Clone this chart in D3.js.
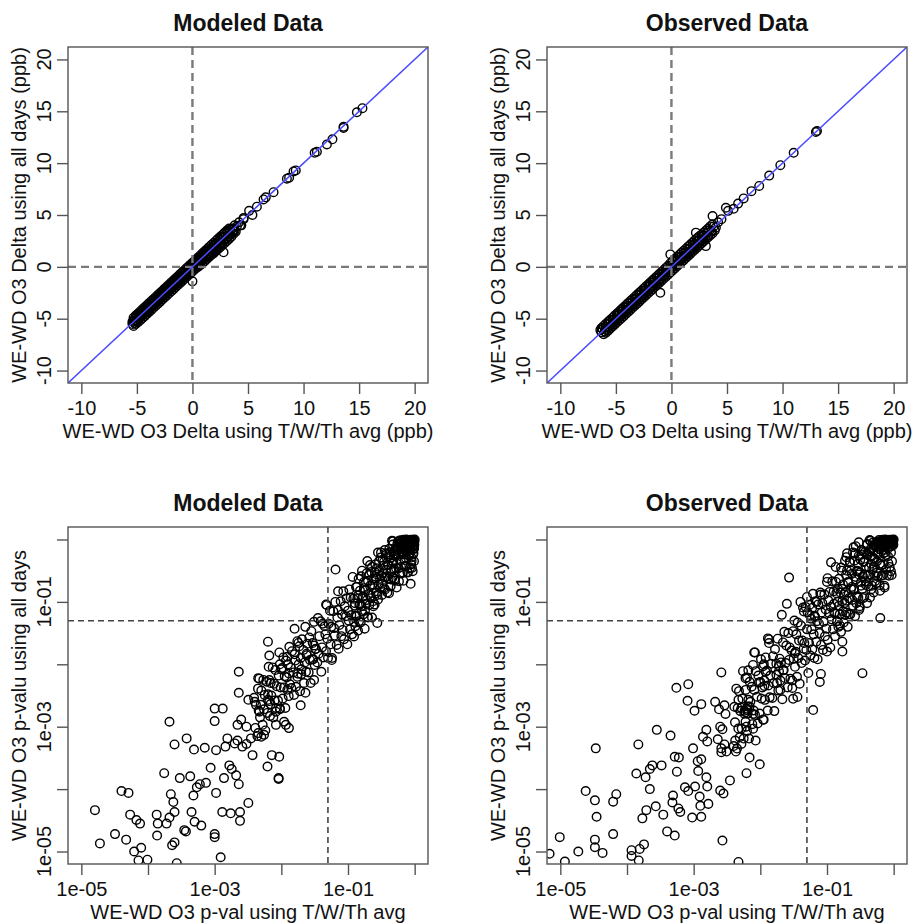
<!DOCTYPE html>
<html>
<head>
<meta charset="utf-8">
<script src="https://cdn.jsdelivr.net/npm/d3@7"></script>
<style>
  body { margin: 0; background: #fff; }
  text { font-family: "Liberation Sans", Arial, sans-serif; fill: #111; }
</style>
</head>
<body>
<svg width="917" height="924"></svg>
<script>
// titles, axis labels and ticks
var panelTitles = ["Modeled Data", "Observed Data"];
var deltaXLabel = "WE-WD O3 Delta using T/W/Th avg (ppb)";
var deltaYLabel = "WE-WD O3 Delta using all days (ppb)";
var pvalXLabel = "WE-WD O3 p-val using T/W/Th avg";
var pvalYLabel = "WE-WD O3 p-valu using all days";
var deltaTicks = [-10, -5, 0, 5, 10, 15, 20];
var pTicks = [1e-5, 1e-4, 1e-3, 1e-2, 1e-1, 1];
var pTickLabels = ["1e-05", "", "1e-03", "", "1e-01", ""];
var pCutoff = 0.05;

// delta: [T/W/Th avg, all days] (ppb), modeled
var modeledDelta = [
  [-5.4,-5.3],[-5.4,-5.5],[-5.3,-5.2],[-5.2,-5.4],[-5.2,-5.0],[-5.1,-5.2],[-5.0,-4.8],[-5.0,-5.2],[-4.9,-5.0],
  [-4.8,-4.6],[-4.8,-5.0],[-4.7,-4.8],[-4.6,-4.4],[-4.6,-4.8],[-4.5,-4.6],[-4.4,-4.2],[-4.4,-4.6],[-4.3,-4.4],
  [-4.2,-4.0],[-4.2,-4.4],[-4.1,-4.2],[-4.0,-3.8],[-4.0,-4.3],[-3.9,-4.0],[-3.8,-3.6],[-3.8,-4.0],[-3.7,-3.8],
  [-3.6,-3.4],[-3.6,-3.8],[-3.5,-3.6],[-3.4,-3.2],[-3.4,-3.6],[-3.3,-3.4],[-3.2,-3.0],[-3.2,-3.4],[-3.1,-3.2],
  [-3.0,-2.8],[-3.0,-3.2],[-2.9,-3.0],[-2.8,-2.6],[-2.8,-3.0],[-2.7,-2.8],[-2.6,-2.4],[-2.6,-2.8],[-2.5,-2.6],
  [-2.4,-2.2],[-2.4,-2.6],[-2.3,-2.4],[-2.2,-2.0],[-2.2,-2.4],[-2.1,-2.2],[-2.0,-1.8],[-2.0,-2.2],[-1.9,-2.0],
  [-1.8,-1.6],[-1.8,-2.0],[-1.7,-1.8],[-1.6,-1.4],[-1.6,-1.8],[-1.5,-1.6],[-1.4,-1.2],[-1.4,-1.6],[-1.3,-1.4],
  [-1.2,-1.0],[-1.2,-1.4],[-1.1,-1.2],[-1.0,-0.8],[-1.0,-1.2],[-0.9,-1.0],[-0.8,-0.6],[-0.8,-1.0],[-0.7,-0.8],
  [-0.6,-0.4],[-0.6,-0.8],[-0.5,-0.6],[-0.4,-0.2],[-0.4,-0.6],[-0.3,-0.4],[-0.2,0.0],[-0.2,-0.4],[-0.1,-0.2],
  [0.0,0.2],[0.0,-0.2],[0.1,0.0],[0.2,0.4],[0.2,0.0],[0.3,0.2],[0.4,0.6],[0.4,0.2],[0.5,0.4],
  [0.6,0.8],[0.6,0.3],[0.7,0.6],[0.8,1.0],[0.8,0.5],[0.9,0.8],[1.0,1.2],[1.0,0.7],[1.1,1.0],
  [1.2,1.4],[1.2,0.9],[1.3,1.2],[1.4,1.6],[1.4,1.0],[1.5,1.3],[1.6,1.7],[1.6,1.2],[1.7,1.5],
  [1.8,1.9],[1.8,1.4],[1.9,1.7],[2.0,2.1],[2.0,1.6],[2.1,1.9],[2.2,2.3],[2.2,1.8],[2.4,2.5],
  [2.4,2.0],[2.5,2.3],[2.6,2.8],[2.6,2.2],[2.8,2.9],[2.8,2.5],[3.0,3.2],[3.0,2.7],[3.2,3.3],
  [3.2,2.9],[3.4,3.6],[3.4,3.1],[3.6,3.7],[3.6,3.3],[3.8,4.0],[3.8,3.5],[4.0,3.9],[4.2,4.3],
  [-5.3,-4.9],[-5.1,-4.7],[-4.9,-4.5],[-4.7,-4.3],[-4.5,-4.1],[-4.3,-3.9],[-4.1,-3.7],[-3.9,-3.5],[-3.7,-3.3],
  [-3.5,-3.1],[-3.3,-2.9],[-3.1,-2.7],[-2.9,-2.5],[-2.7,-2.3],[-2.5,-2.1],[-2.3,-1.9],[-2.1,-1.7],[-1.9,-1.5],
  [-1.7,-1.3],[-1.5,-1.1],[-1.3,-0.9],[-1.1,-0.7],[-0.9,-0.5],[-0.7,-0.3],[-0.5,-0.1],[-0.3,0.1],[-0.1,0.3],
  [0.1,0.5],[0.3,0.7],[0.5,0.9],[0.7,1.1],[0.9,1.3],[1.1,1.5],[1.3,1.7],[1.5,1.9],[1.7,2.1],
  [1.9,2.3],[2.1,2.5],[2.3,2.7],[2.5,2.9],[2.7,3.1],[2.9,3.3],[3.1,3.4],[3.3,3.7],
  [-5.3,-5.7],[-5.1,-5.5],[-4.9,-5.35],[-4.7,-5.15],[-4.5,-4.95],[-4.3,-4.75],[-4.1,-4.55],[-3.9,-4.35],[-3.7,-4.15],
  [-3.5,-3.95],[-3.3,-3.75],[-3.1,-3.55],[-2.9,-3.35],[-2.7,-3.15],[-2.5,-2.95],[-2.3,-2.75],[-2.1,-2.55],[-1.9,-2.35],
  [-1.7,-2.15],[-1.5,-1.95],[-1.3,-1.75],[-1.1,-1.55],[-0.9,-1.35],[-0.7,-1.15],[-0.5,-0.95],[-0.3,-0.75],[-0.1,-0.55],
  [0.1,-0.35],[0.3,-0.15],[0.5,0.0],[0.7,0.15],[0.9,0.35],[1.1,0.55],[1.3,0.75],[1.5,0.95],[1.7,1.15],
  [1.9,1.3],[2.1,1.5],[2.3,1.7],[2.5,1.9],[2.7,2.1],[2.9,2.3],[3.1,2.5],[3.3,2.7],[3.5,2.9],[3.7,3.2],[3.9,3.4],
  [4.4,4.0],[4.6,4.6],[3.1,3.5],[3.7,3.6],[4.3,4.0],[4.6,4.7],[5.1,5.4],[5.4,5.0],[5.8,5.8],
  [6.4,6.5],[6.6,6.7],[7.3,7.2],[8.5,8.5],[8.7,8.6],[9.1,9.2],[9.3,9.3],[11.0,11.0],[11.2,11.1],
  [12.1,11.8],[12.6,12.3],[13.6,13.4],[13.6,13.5],[14.8,14.9],[15.3,15.3],[0.0,-1.4],[2.8,1.4]
];

// delta: [T/W/Th avg, all days] (ppb), observed
var observedDelta = [
  [-6.4,-6.1],[-6.3,-6.3],[-6.2,-6.0],[-6.0,-6.2],[-5.9,-5.8],[-5.8,-6.0],[-5.7,-5.5],[-5.6,-5.8],[-5.5,-5.4],
  [-5.4,-5.6],[-5.3,-5.1],[-5.2,-5.4],[-5.1,-5.0],[-5.0,-5.2],[-4.9,-4.7],[-4.8,-5.0],[-4.7,-4.6],[-4.6,-4.8],
  [-4.5,-4.3],[-4.4,-4.6],[-4.3,-4.2],[-4.2,-4.4],[-4.1,-3.9],[-4.0,-4.2],[-3.9,-3.8],[-3.8,-4.0],[-3.7,-3.5],
  [-3.6,-3.8],[-3.5,-3.4],[-3.4,-3.6],[-3.3,-3.1],[-3.2,-3.4],[-3.1,-3.0],[-3.0,-3.2],[-2.9,-2.7],[-2.8,-3.0],
  [-2.7,-2.6],[-2.6,-2.8],[-2.5,-2.3],[-2.4,-2.6],[-2.3,-2.2],[-2.2,-2.4],[-2.1,-1.9],[-2.0,-2.2],[-1.9,-1.8],
  [-1.8,-2.0],[-1.7,-1.5],[-1.6,-1.8],[-1.5,-1.4],[-1.4,-1.6],[-1.3,-1.1],[-1.2,-1.4],[-1.1,-1.0],[-1.0,-1.2],
  [-0.9,-0.7],[-0.8,-0.9],[-0.7,-0.6],[-0.6,-0.8],[-0.5,-0.3],[-0.4,-0.5],[-0.3,-0.2],[-0.2,-0.4],[-0.1,0.1],
  [0.0,-0.1],[0.1,0.2],[0.2,0.0],[0.3,0.5],[0.4,0.2],[0.5,0.6],[0.6,0.4],[0.7,0.9],[0.8,0.6],
  [0.9,1.0],[1.0,0.8],[1.1,1.3],[1.2,1.0],[1.3,1.4],[1.4,1.2],[1.5,1.7],[1.6,1.4],[1.7,1.8],
  [1.8,1.6],[1.9,2.1],[2.0,1.8],[2.1,2.2],[2.2,2.0],[2.3,2.5],[2.4,2.2],[2.5,2.6],[2.6,2.4],
  [2.7,2.9],[2.8,2.6],[2.9,3.0],[3.0,2.8],[3.2,3.3],[3.3,3.0],[3.4,3.5],[3.6,3.4],[3.8,3.9],
  [4.0,3.8],[4.2,4.3],
  [-6.3,-5.9],[-6.1,-5.7],[-5.9,-5.5],[-5.7,-5.3],[-5.5,-5.1],[-5.3,-4.9],[-5.1,-4.7],[-4.9,-4.5],[-4.7,-4.3],
  [-4.5,-4.1],[-4.3,-3.9],[-4.1,-3.7],[-3.9,-3.5],[-3.7,-3.3],[-3.5,-3.1],[-3.3,-2.9],[-3.1,-2.7],[-2.9,-2.5],
  [-2.7,-2.3],[-2.5,-2.1],[-2.3,-1.9],[-2.1,-1.7],[-1.9,-1.5],[-1.7,-1.3],[-1.5,-1.1],[-1.3,-0.9],[-1.1,-0.7],
  [-0.9,-0.5],[-0.7,-0.3],[-0.5,-0.1],[-0.3,0.1],[-0.1,0.35],[0.1,0.55],[0.3,0.75],[0.5,0.95],[0.7,1.15],
  [0.9,1.35],[1.1,1.55],[1.3,1.75],[1.5,1.95],[1.7,2.15],[1.9,2.35],[2.1,2.55],[2.3,2.75],[2.5,2.95],
  [2.7,3.1],[2.9,3.3],[3.1,3.5],[3.3,3.7],[3.5,3.9],[3.7,4.1],
  [-6.1,-6.5],[-5.9,-6.35],[-5.7,-6.15],[-5.5,-5.95],[-5.3,-5.75],[-5.1,-5.55],[-4.9,-5.35],[-4.7,-5.15],[-4.5,-4.95],
  [-4.3,-4.75],[-4.1,-4.55],[-3.9,-4.35],[-3.7,-4.15],[-3.5,-3.95],[-3.3,-3.75],[-3.1,-3.55],[-2.9,-3.35],[-2.7,-3.15],
  [-2.5,-2.95],[-2.3,-2.75],[-2.1,-2.55],[-1.9,-2.35],[-1.7,-2.15],[-1.5,-1.95],[-1.3,-1.75],[-1.1,-1.55],[-0.9,-1.35],
  [-0.7,-1.15],[-0.5,-0.95],[-0.3,-0.75],[-0.1,-0.55],[0.1,-0.35],[0.3,-0.15],[0.5,0.05],[0.7,0.25],[0.9,0.45],
  [1.1,0.65],[1.3,0.85],[1.5,1.05],[1.7,1.25],[1.9,1.45],[2.1,1.65],[2.3,1.85],[2.5,2.05],[2.7,2.25],
  [2.9,2.45],[3.1,2.65],[3.3,2.85],[3.5,3.05],[3.7,3.25],[3.9,3.5],
  [2.2,3.3],[3.1,2.0],[-1.0,-2.5],[-0.1,1.2],[3.7,4.9],[4.5,4.6],[4.9,5.7],[5.1,5.4],
  [5.6,5.6],[6.0,6.1],[6.5,6.6],[7.2,7.3],[7.9,7.8],[8.8,8.8],[9.8,9.8],[11.0,11.0],[13.0,13.0],[13.1,13.1]
];

// p-values: [T/W/Th avg, all days], modeled, single circles
var modeledPval = [
  [1.6e-5,4.6e-5],[1.9e-5,1.35e-5],[3.2e-5,1.9e-5],[4.7e-5,1.55e-5],[4.0e-5,9.3e-5],[5.1e-5,8.7e-5],[5.4e-5,3.9e-5],
  [6.7e-5,3.2e-5],[7.6e-5,2.8e-5],[6.2e-5,1.0e-5],[7.9e-5,1.15e-5],[7.2e-5,7.2e-6],[9.8e-5,7.4e-6],[1.37e-4,1.8e-5],
  [1.35e-4,3.9e-5],[1.4e-4,2.8e-5],[1.9e-4,2.8e-5],[2.1e-4,1.2e-3],[2.5e-4,5.2e-4],[1.75e-4,1.8e-4],[2.2e-4,8.3e-5],
  [2.4e-4,6.2e-5],[2.5e-4,4.3e-5],[2.1e-4,3.5e-5],[2.5e-4,1.4e-5],[2.3e-4,1.26e-5],[2.7e-4,6.5e-6],[3.8e-4,6.5e-4],
  [4.9e-4,4.3e-4],[3.0e-4,1.5e-4],[4.3e-4,1.6e-4],[3.5e-4,2.2e-5],[3.7e-4,2.1e-5],[4.5e-4,4.3e-5],[4.8e-4,7.9e-5],
  [5.4e-4,1.07e-4],[6.0e-4,1.2e-4],[6.3e-4,2.6e-5],[5.0e-4,3.0e-5],[7.1e-4,4.6e-4],[1.0e-3,1.95e-3],[1.0e-3,1.23e-3],
  [1.32e-3,1.95e-3],[1.0e-3,1.9e-5],[1.0e-3,1.7e-5],[1.23e-3,8.1e-6],[1.3e-3,4.3e-5],[1.74e-3,4.1e-5],[2.4e-3,4.3e-5],
  [2.4e-3,3.1e-5],[3.2e-3,6.0e-5],[8.7e-4,2.2e-4],[1.05e-3,8.7e-5],[7.4e-4,1.26e-4],[1.38e-3,1.5e-4],[1.66e-3,2.4e-4],
  [1.8e-3,2.1e-4],[2.1e-3,1.66e-4],[2.3e-3,1.2e-4],[1.45e-3,4.8e-4],[1.55e-3,6.5e-4],[1.05e-3,4.2e-4],[2.0e-3,5.4e-4],
  [2.2e-3,6.0e-4],[2.6e-3,4.8e-4],[3.0e-3,5.3e-4],[3.5e-3,6.5e-4],[3.7e-3,3.5e-4],[2.2e-3,1.07e-3],[2.5e-3,1.3e-3],
  [3.0e-3,1.0e-3],[2.3e-3,3.5e-3],[2.3e-3,7.6e-3],[4.5e-3,6.0e-3],[3.2e-3,2.7e-3],[3.9e-3,2.9e-3],[4.7e-3,1.74e-3],
  [5.0e-3,6.9e-4],[4.5e-3,7.9e-4],[5.5e-3,7.4e-4],[6.2e-3,2.3e-4],[7.2e-3,3.5e-4],[9.3e-3,3.3e-4],[9.1e-3,1.5e-4],
  [9.1e-3,1.45e-4],[6.6e-3,1.38e-2],[6.3e-3,2.3e-2],[6.6e-3,5.6e-3],[6.3e-3,2.7e-3],[6.9e-3,2.3e-3],[8.3e-3,1.74e-3],
  [9.5e-3,1.9e-3],[8.3e-3,1.07e-3],[1.17e-2,1.07e-3],[1.3e-2,9.5e-4],[1.1e-2,1.2e-3],[1.23e-2,1.32e-2],[9.5e-3,1.0e-2],
  [1.0e-2,8.3e-3],[1.3e-2,7.1e-3],[1.23e-2,3.9e-3],[1.95e-2,2.2e-3],[2.3e-2,3.5e-3],[1.74e-2,6.3e-3],[2.0e-2,8.3e-3],
  [3.1e-2,5.6e-3],[2.4e-2,1.4e-2],[2.9e-2,1.2e-2],[3.1e-2,2.0e-2],[1.8e-2,2.2e-2],[6.5e-2,0.33],[0.87,0.195],
  [0.91,0.35],[0.275,0.046],[0.195,0.45],[1.58e-2,3.7e-2],[5.7e-2,1.17e-2],[7.1e-2,0.148],[4.7e-2,9.1e-2],[0.123,2.8e-2],
  [0.6,0.85],[0.65,0.95],[0.7,0.9],[0.75,1.0],[0.8,0.88],[0.85,0.97],[0.9,0.92],[0.95,0.99],[0.98,0.95],
  [1.0,1.0],[0.7,0.75],[0.8,0.8],[0.9,0.85],[0.95,0.9],[0.55,0.75],[0.65,0.8],[0.75,0.85],[0.85,0.9],
  [0.92,0.97],[0.97,0.88],[0.88,0.99],[0.78,0.95],[0.68,0.99],[0.58,0.92],[0.62,0.7],[0.72,0.68],[0.82,0.72],
  [0.93,0.78],[0.99,0.82],[0.5,0.65],[0.42,0.62],[0.47,0.83],[0.52,0.55],[0.57,0.68],[0.61,0.97],[0.66,0.62],
  [0.69,0.83],[0.73,0.93],[0.76,0.72],[0.81,0.96],[0.84,0.66],[0.87,0.84],[0.91,0.75],[0.94,0.95],[0.96,0.7],
  [0.99,0.93],[0.83,0.55],[0.74,0.5],[0.96,0.6],[0.9,0.45],[0.98,0.72]
];

// dense part of the modeled cloud as log10(p) pairs
var modeledCloudLog10 = [
  [-2.40,-2.60],[-2.39,-3.02],[-2.38,-2.65],[-2.36,-3.15],[-2.35,-2.39],[-2.34,-2.74],[-2.33,-2.23],[-2.32,-2.85],[-2.31,-2.65],[-2.30,-2.42],
  [-2.28,-2.97],[-2.27,-2.25],[-2.26,-2.72],[-2.25,-2.49],[-2.24,-3.06],[-2.22,-2.28],[-2.21,-2.78],[-2.20,-2.48],[-2.19,-2.04],[-2.18,-2.59],
  [-2.17,-2.83],[-2.16,-2.30],[-2.15,-2.50],[-2.13,-2.05],[-2.12,-2.85],[-2.11,-2.31],[-2.10,-2.58],[-2.09,-2.09],[-2.08,-2.70],[-2.07,-2.35],
  [-2.05,-2.58],[-2.04,-2.18],[-2.03,-1.81],[-2.02,-2.71],[-2.01,-2.37],[-1.99,-2.06],[-1.98,-2.55],[-1.97,-1.89],[-1.96,-2.37],[-1.95,-2.19],
  [-1.94,-2.70],[-1.93,-1.94],[-1.92,-2.21],[-1.90,-2.00],[-1.89,-2.51],[-1.88,-1.72],[-1.87,-2.32],[-1.86,-2.05],[-1.85,-2.38],[-1.84,-1.79],
  [-1.82,-2.13],[-1.81,-2.49],[-1.80,-1.84],[-1.79,-1.94],[-1.78,-2.36],[-1.76,-1.63],[-1.75,-2.15],[-1.74,-2.00],[-1.73,-1.71],[-1.72,-2.43],
  [-1.71,-1.90],[-1.70,-2.16],[-1.69,-1.60],[-1.67,-1.77],[-1.66,-2.30],[-1.65,-1.97],[-1.64,-1.40],[-1.63,-2.12],[-1.62,-1.83],[-1.61,-1.67],
  [-1.59,-2.13],[-1.58,-1.57],[-1.57,-1.93],[-1.56,-2.30],[-1.55,-1.47],[-1.53,-1.66],[-1.52,-1.92],[-1.51,-1.32],[-1.50,-2.01],[-1.49,-1.76],
  [-1.48,-1.75],[-1.46,-1.97],[-1.45,-1.26],[-1.44,-1.83],[-1.43,-1.55],[-1.41,-1.31],[-1.40,-2.12],[-1.39,-1.73],[-1.38,-1.35],[-1.37,-1.89],
  [-1.35,-1.39],[-1.34,-1.52],[-1.33,-1.79],[-1.32,-1.05],[-1.31,-1.59],[-1.30,-1.90],[-1.29,-1.35],[-1.27,-1.14],[-1.26,-1.68],[-1.25,-1.40],
  [-1.24,-1.90],[-1.22,-1.15],[-1.21,-1.42],[-1.20,-1.54],[-1.19,-1.00],[-1.17,-1.69],[-1.16,-1.25],[-1.15,-1.13],[-1.14,-1.75],[-1.13,-1.37],
  [-1.11,-0.99],[-1.10,-1.55],[-1.09,-1.20],[-1.08,-1.45],[-1.07,-0.83],[-1.06,-1.60],[-1.05,-1.07],[-1.03,-1.23],[-1.02,-0.94],[-1.01,-1.68],
  [-1.00,-1.14],[-0.99,-1.30],[-0.98,-0.80],[-0.97,-1.44],[-0.96,-0.93],[-0.95,-1.21],[-0.94,-1.52],[-0.93,-0.60],[-0.92,-0.95],[-0.91,-1.32],
  [-0.90,-1.06],[-0.89,-1.39],[-0.88,-0.76],[-0.87,-1.23],[-0.86,-0.94],[-0.85,-1.46],[-0.84,-0.63],[-0.83,-1.05],[-0.82,-0.82],[-0.81,-1.33],
  [-0.80,-1.07],[-0.79,-0.50],[-0.78,-0.92],[-0.77,-1.20],[-0.76,-0.68],[-0.75,-1.43],[-0.74,-0.82],[-0.73,-1.03],[-0.72,-0.54],[-0.71,-1.24],
  [-0.70,-0.66],[-0.69,-0.87],[-0.68,-1.05],[-0.67,-0.41],[-0.66,-0.90],[-0.65,-0.52],[-0.64,-1.25],[-0.63,-0.72],[-0.62,-1.07],[-0.61,-0.63],
  [-0.60,-1.04],[-0.59,-0.40],[-0.58,-0.62],[-0.57,-0.46],[-0.56,-0.89],[-0.55,-0.21],[-0.54,-0.72],[-0.53,-0.50],[-0.52,-0.78],[-0.51,-0.29],
  [-0.50,-0.58],[-0.49,-0.89],[-0.48,-0.33],[-0.47,-0.42],[-0.46,-0.78],[-0.45,-0.17],[-0.44,-0.61],[-0.43,-0.49],[-0.42,-0.24],[-0.41,-0.85],
  [-0.40,-0.41],[-0.39,-0.63],[-0.38,-0.15],[-0.37,-0.30],[-0.36,-0.75],[-0.35,-0.47],[-0.34,-0.02],[-0.33,-0.61],[-0.32,-0.36],[-0.31,-0.23],
  [-0.30,-0.63],[-0.29,-0.15],[-0.28,-0.46],[-0.27,-0.77],[-0.26,-0.07],[-0.25,-0.24],[-0.24,-0.46],[-0.23,-0.03],[-0.22,-0.54],[-0.21,-0.33],
  [-0.20,-0.19],[-0.19,-0.54],[-0.18,-0.23],[-0.17,-0.66],[-0.16,-0.01],[-0.15,-0.33],[-0.14,-0.05],[-0.13,-0.42],[-0.12,-0.16],[-0.11,-0.52],
  [-0.10,-0.04],[-0.09,-0.25],[-0.08,-0.03],[-0.07,-0.46],[-0.06,-0.16],[-0.05,-0.29],[-0.04,-0.02],[-0.03,-0.51],[-0.02,-0.10],[-0.01,-0.35],
  [-0.895,-1.02],[-0.88,-1.22],[-0.865,-0.76],[-0.85,-0.90],[-0.835,-1.31],[-0.82,-1.04],[-0.805,-0.59],[-0.79,-1.15],[-0.775,-0.91],[-0.76,-0.78],
  [-0.745,-1.14],[-0.73,-0.68],[-0.715,-0.97],[-0.70,-1.25],[-0.685,-0.57],[-0.67,-0.74],[-0.655,-0.94],[-0.64,-0.44],[-0.625,-0.99],[-0.61,-0.78],
  [-0.595,-0.52],[-0.58,-0.86],[-0.565,-0.56],[-0.55,-0.96],[-0.535,-0.35],[-0.52,-0.63],[-0.505,-0.21],[-0.49,-0.71],[-0.475,-0.54],[-0.46,-0.36],
  [-0.445,-0.80],[-0.43,-0.22],[-0.415,-0.59],[-0.40,-0.40],[-0.385,-0.86],[-0.37,-0.24],[-0.355,-0.64],[-0.34,-0.39],[-0.325,-0.03],[-0.31,-0.47],
  [-0.295,-0.66],[-0.28,-0.23],[-0.265,-0.39],[-0.25,-0.03],[-0.235,-0.67],[-0.22,-0.23],[-0.205,-0.44],[-0.19,-0.05],[-0.175,-0.53],[-0.16,-0.24],
  [-0.145,-0.43],[-0.13,-0.12],[-0.115,-0.02],[-0.10,-0.53],[-0.085,-0.25],[-0.07,-0.01],[-0.055,-0.40],[-0.04,-0.04],[-0.025,-0.24],[-0.01,-0.10]
];

// p-values: [T/W/Th avg, all days], observed, single circles
var observedPval = [
  [6.9e-6,9.2e-6],[1.17e-5,6.9e-6],[9.8e-6,1.7e-5],[1.86e-5,1.0e-5],[3.3e-5,1.55e-5],[3.3e-5,1.17e-5],[4.3e-5,9.5e-6],
  [3.4e-5,4.5e-4],[2.4e-5,9.3e-5],[3.3e-5,6.6e-5],[3.5e-5,3.6e-5],[6.2e-5,6.3e-5],[6.9e-5,8.3e-5],[6.2e-5,1.9e-5],
  [1.17e-4,1.05e-5],[1.17e-4,8.5e-6],[1.55e-4,1.1e-5],[1.8e-4,1.3e-5],[1.5e-4,7.2e-6],[1.48e-4,5.2e-4],[1.38e-4,1.78e-4],
  [1.9e-4,1.55e-4],[2.2e-4,2.1e-4],[2.4e-4,2.4e-4],[3.3e-4,2.4e-4],[2.2e-4,1.0e-4],[2.7e-4,5.3e-5],[1.95e-4,4.6e-5],
  [1.7e-4,3.4e-5],[3.5e-4,3.9e-5],[2.8e-4,8.9e-4],[4.5e-4,7.2e-4],[4.0e-4,2.1e-5],[5.2e-4,1.8e-5],[5.5e-4,4.2e-3],
  [8.3e-4,4.8e-3],[8.1e-4,2.6e-3],[1.03e-3,1.8e-3],[1.3e-3,2.3e-3],[5.2e-4,3.3e-4],[6.0e-4,3.2e-4],[5.6e-4,1.9e-4],
  [4.9e-4,7.9e-5],[4.8e-4,6.1e-5],[5.9e-4,4.9e-5],[6.3e-4,4.3e-5],[7.4e-4,1.07e-4],[8.3e-4,9.3e-5],[9.5e-4,3.5e-5],
  [1.05e-3,1.1e-4],[1.23e-3,7.6e-5],[1.26e-3,5.4e-5],[1.3e-3,3.6e-5],[9.8e-4,4.5e-4],[1.15e-3,2.8e-4],[1.3e-3,3.0e-4],
  [1.17e-3,1.95e-4],[1.55e-3,1.55e-4],[1.38e-3,6.9e-4],[1.55e-3,8.9e-4],[1.6e-3,5.8e-4],[1.6e-3,1.1e-4],[1.66e-3,5.8e-5],
  [2.1e-3,2.5e-3],[2.4e-3,1.9e-3],[2.5e-3,1.0e-3],[2.7e-3,9.1e-4],[2.3e-3,6.3e-4],[2.6e-3,4.5e-4],[2.9e-3,5.2e-4],
  [2.6e-3,3.9e-4],[3.1e-3,4.0e-4],[2.5e-3,9.5e-5],[2.8e-3,8.5e-5],[3.5e-3,1.38e-4],[2.7e-3,1.5e-5],[2.9e-3,2.2e-3],
  [3.0e-3,1.6e-3],[4.2e-3,6.0e-4],[4.3e-3,4.0e-4],[2.6e-3,7.4e-3],[4.7e-3,6.8e-6],[5.2e-3,5.3e-4],[6.2e-3,1.8e-4],
  [6.9e-3,3.2e-4],[9.8e-3,2.5e-4],[8.5e-3,6.0e-4],[6.3e-3,8.5e-4],[6.0e-3,1.2e-3],[7.8e-3,9.3e-4],[4.7e-3,2.7e-3],
  [5.2e-3,2.0e-3],[6.2e-3,1.95e-3],[5.8e-3,1.8e-3],[6.5e-3,2.1e-3],[6.0e-3,1.7e-3],[6.4e-3,1.85e-3],[6.9e-3,2.1e-3],
  [7.8e-3,1.6e-3],[1.1e-2,1.3e-3],[6.0e-3,6.0e-3],[6.6e-3,8.0e-3],[8.3e-3,1.55e-2],[1.13e-2,1.0e-2],[1.2e-2,7.6e-3],
  [1.0e-2,5.2e-3],[1.15e-2,4.5e-3],[1.74e-2,6.8e-3],[2.0e-2,5.5e-3],[2.2e-2,8.0e-3],[3.1e-2,2.8e-3],[3.6e-2,3.0e-3],
  [3.0e-2,5.5e-3],[3.3e-2,1.5e-2],[1.9e-2,9.5e-3],[2.7e-2,0.245],[2.5e-2,9.3e-2],[2.1e-2,6.2e-2],[1.3e-2,2.6e-2],
  [1.35e-2,2.5e-2],[8.1e-3,1.55e-2],[0.34,7.2e-3],[0.63,5.5e-2],[0.73,0.17],[0.91,0.31],[0.27,0.78],
  [0.195,0.52],[0.115,0.43],[0.102,0.24],[6.2e-2,1.85e-3],[7.8e-2,5.2e-3],[8.1e-2,7.0e-3],[0.17,2.3e-2],
  [0.17,1.6e-2],[0.1,1.6e-2],[0.31,8.0e-2],
  [0.04,0.1],[0.05,0.12],[0.06,0.08],[0.07,0.1],[0.045,0.07],[0.055,0.09],[0.08,0.13],[0.065,0.06],
  [0.6,0.85],[0.65,0.95],[0.7,0.9],[0.75,1.0],[0.8,0.88],[0.85,0.97],[0.9,0.92],[0.95,0.99],[0.98,0.95],
  [1.0,1.0],[0.7,0.75],[0.8,0.8],[0.9,0.85],[0.95,0.9],[0.55,0.75],[0.65,0.8],[0.75,0.85],[0.85,0.9],
  [0.92,0.97],[0.97,0.88],[0.88,0.99],[0.78,0.95],[0.68,0.99],[0.58,0.92],[0.62,0.7],[0.72,0.68],[0.82,0.72],
  [0.93,0.78],[0.99,0.82],[0.5,0.65],[0.2,0.6],[0.25,0.75],[0.3,0.9],[0.35,0.65],[0.4,0.85],[0.45,0.95],
  [0.3,0.55],[0.4,0.6],[0.5,0.8],[0.45,0.7]
];

// dense part of the observed cloud as log10(p) pairs
var observedCloudLog10 = [
  [-2.40,-3.31],[-2.39,-2.68],[-2.38,-2.93],[-2.36,-2.39],[-2.35,-3.35],[-2.34,-2.70],[-2.33,-3.03],[-2.32,-2.43],[-2.31,-3.17],[-2.30,-2.75],
  [-2.28,-3.03],[-2.27,-2.55],[-2.26,-2.11],[-2.25,-3.19],[-2.24,-2.79],[-2.22,-2.41],[-2.21,-3.00],[-2.20,-2.21],[-2.19,-2.79],[-2.18,-2.57],
  [-2.17,-3.19],[-2.16,-2.28],[-2.15,-2.60],[-2.13,-2.36],[-2.12,-2.96],[-2.11,-2.01],[-2.10,-2.74],[-2.09,-2.41],[-2.08,-2.81],[-2.07,-2.11],
  [-2.05,-2.52],[-2.04,-2.95],[-2.03,-2.18],[-2.02,-2.29],[-2.01,-2.79],[-1.99,-1.92],[-1.98,-2.55],[-1.97,-2.37],[-1.96,-2.03],[-1.95,-2.89],
  [-1.94,-2.26],[-1.93,-2.57],[-1.92,-1.89],[-1.90,-2.10],[-1.89,-2.74],[-1.88,-2.34],[-1.87,-1.66],[-1.86,-2.53],[-1.85,-2.18],[-1.84,-1.99],
  [-1.82,-2.54],[-1.81,-1.87],[-1.80,-2.30],[-1.79,-2.75],[-1.78,-1.76],[-1.76,-1.99],[-1.75,-2.30],[-1.74,-1.59],[-1.73,-2.42],[-1.72,-2.11],
  [-1.71,-1.91],[-1.70,-2.41],[-1.69,-1.97],[-1.67,-2.56],[-1.66,-1.65],[-1.65,-2.09],[-1.64,-1.48],[-1.63,-2.22],[-1.62,-1.98],[-1.61,-1.70],
  [-1.59,-2.37],[-1.58,-1.50],[-1.57,-1.93],[-1.56,-1.73],[-1.55,-2.23],[-1.53,-1.78],[-1.52,-2.38],[-1.51,-1.47],[-1.50,-1.91],[-1.49,-1.30],
  [-1.48,-2.04],[-1.47,-1.80],[-1.46,-1.52],[-1.45,-2.20],[-1.44,-1.33],[-1.43,-1.90],[-1.42,-1.62],[-1.41,-2.31],[-1.39,-1.38],[-1.38,-1.98],
  [-1.37,-1.62],[-1.36,-1.09],[-1.35,-1.75],[-1.34,-1.66],[-1.33,-1.94],[-1.32,-1.08],[-1.31,-1.77],[-1.30,-1.44],[-1.29,-1.17],[-1.28,-2.14],
  [-1.27,-1.66],[-1.26,-1.21],[-1.25,-1.86],[-1.24,-1.27],[-1.23,-1.44],[-1.22,-1.76],[-1.21,-0.87],[-1.20,-1.52],[-1.19,-1.90],[-1.18,-1.24],
  [-1.17,-0.99],[-1.16,-1.64],[-1.15,-1.31],[-1.14,-1.92],[-1.13,-1.04],[-1.12,-1.35],[-1.11,-1.50],[-1.10,-0.85],[-1.09,-1.69],[-1.08,-1.17],
  [-1.07,-1.02],[-1.06,-1.77],[-1.05,-1.32],[-1.04,-0.88],[-1.03,-1.55],[-1.02,-1.12],[-1.01,-1.43],[-1.00,-0.68],[-0.99,-1.61],[-0.98,-0.98],
  [-0.97,-1.18],[-0.96,-0.84],[-0.95,-1.73],[-0.94,-1.08],[-0.93,-1.28],[-0.92,-0.67],[-0.91,-1.44],[-0.90,-0.83],[-0.89,-1.17],[-0.88,-1.55],
  [-0.87,-0.44],[-0.86,-0.86],[-0.85,-1.31],[-0.84,-1.00],[-0.83,-1.40],[-0.82,-0.63],[-0.81,-1.20],[-0.80,-0.85],[-0.79,-1.48],[-0.78,-0.50],
  [-0.77,-0.99],[-0.76,-0.72],[-0.75,-1.33],[-0.74,-1.02],[-0.73,-0.34],[-0.72,-0.84],[-0.71,-1.17],[-0.70,-0.50],[-0.69,-1.40],[-0.68,-0.69],
  [-0.67,-0.94],[-0.66,-0.35],[-0.65,-1.20],[-0.64,-0.50],[-0.63,-0.76],[-0.62,-0.97],[-0.61,-0.21],[-0.60,-0.80],[-0.59,-0.34],[-0.58,-1.23],
  [-0.57,-0.60],[-0.56,-1.02],[-0.55,-0.50],[-0.54,-0.51],[-0.53,-0.93],[-0.52,-0.56],[-0.51,-1.07],[-0.50,-0.32],[-0.49,-0.68],[-0.48,-0.17],
  [-0.47,-0.79],[-0.46,-0.59],[-0.45,-0.36],[-0.44,-0.92],[-0.43,-0.20],[-0.42,-0.67],[-0.41,-0.44],[-0.40,-1.02],[-0.39,-0.25],[-0.38,-0.75],
  [-0.37,-0.45],[-0.36,-0.01],[-0.35,-0.56],[-0.34,-0.80],[-0.33,-0.27],[-0.32,-0.48],[-0.31,-0.05],[-0.30,-0.85],[-0.29,-0.31],[-0.28,-0.58],
  [-0.27,-0.09],[-0.26,-0.70],[-0.25,-0.35],[-0.24,-0.59],[-0.23,-0.20],[-0.22,-0.04],[-0.21,-0.73],[-0.20,-0.39],[-0.19,-0.09],[-0.18,-0.58],
  [-0.17,-0.03],[-0.16,-0.40],[-0.15,-0.22],[-0.14,-0.74],[-0.13,-0.02],[-0.12,-0.25],[-0.11,-0.06],[-0.10,-0.57],[-0.09,-0.01],[-0.08,-0.38],
  [-0.07,-0.11],[-0.06,-0.44],[-0.05,-0.03],[-0.04,-0.21],[-0.03,-0.57],[-0.02,-0.02],[-0.01,-0.02],
  [-0.895,-1.03],[-0.88,-1.19],[-0.865,-0.68],[-0.85,-1.31],[-0.835,-0.79],[-0.82,-1.06],[-0.805,-1.38],[-0.79,-0.45],[-0.775,-0.79],[-0.76,-1.15],
  [-0.745,-0.88],[-0.73,-1.21],[-0.715,-0.57],[-0.70,-0.98],[-0.685,-0.68],[-0.67,-1.20],[-0.655,-0.37],[-0.64,-0.79],[-0.625,-0.55],[-0.61,-1.06],
  [-0.595,-0.80],[-0.58,-0.22],[-0.565,-0.64],[-0.55,-0.91],[-0.535,-0.39],[-0.52,-1.13],[-0.505,-0.53],[-0.49,-0.74],[-0.475,-0.24],[-0.46,-0.94],
  [-0.445,-0.35],[-0.43,-0.56],[-0.415,-0.73],[-0.40,-0.09],[-0.385,-0.58],[-0.37,-0.19],[-0.355,-0.93],[-0.34,-0.39],[-0.325,-0.74],[-0.31,-0.30],
  [-0.295,-0.44],[-0.28,-0.67],[-0.265,-0.05],[-0.25,-0.53],[-0.235,-0.24],[-0.22,-0.01],[-0.205,-0.82],[-0.19,-0.42],[-0.175,-0.04],[-0.16,-0.57],
  [-0.145,-0.08],[-0.13,-0.21],[-0.115,-0.48],[-0.10,-0.03],[-0.085,-0.27],[-0.07,-0.58],[-0.055,-0.02],[-0.04,-0.06],[-0.025,-0.35],[-0.01,-0.07]
];

function fromLog10(list) {
    return list.map(function (d) { return [Math.pow(10, d[0]), Math.pow(10, d[1])]; });
}

var svg = d3.select("svg");
var W = 360;

// panel placement (pixels) and which data goes where
var panels = [
  { id: 0, left: 68,  top: 47,  h: 336, kind: "delta", title: panelTitles[0], pts: modeledDelta },
  { id: 1, left: 547, top: 47,  h: 336, kind: "delta", title: panelTitles[1], pts: observedDelta },
  { id: 2, left: 68,  top: 527, h: 337, kind: "pval",  title: panelTitles[0], pts: modeledPval.concat(fromLog10(modeledCloudLog10)) },
  { id: 3, left: 547, top: 527, h: 337, kind: "pval",  title: panelTitles[1], pts: observedPval.concat(fromLog10(observedCloudLog10)) }
];

panels.forEach(function (p) {
    var g = svg.append("g").attr("transform", "translate(" + p.left + "," + p.top + ")");
    var x, y, ticks, labelOf, xlab, ylab;

    if (p.kind === "delta") {
        // R style 4% padding round [-10, 20]
        x = d3.scaleLinear().domain([-11.2, 21.2]).range([0, W]);
        y = d3.scaleLinear().domain([-11.2, 21.2]).range([p.h, 0]);
        ticks = deltaTicks;
        labelOf = function (d) { return String(d); };
        xlab = deltaXLabel; ylab = deltaYLabel;
    } else {
        x = d3.scaleLog().domain([Math.pow(10, -5.2), Math.pow(10, 0.2)]).range([0, W]);
        y = d3.scaleLog().domain([Math.pow(10, -5.2), Math.pow(10, 0.2)]).range([p.h, 0]);
        ticks = pTicks;
        labelOf = function (d, i) { return pTickLabels[i]; };
        xlab = pvalXLabel; ylab = pvalYLabel;
    }

    var clipId = "clip" + p.id;
    g.append("clipPath").attr("id", clipId)
        .append("rect").attr("width", W).attr("height", p.h);

    var plot = g.append("g").attr("clip-path", "url(#" + clipId + ")");

    // points (pch = 1)
    plot.selectAll("circle")
        .data(p.pts)
        .enter()
        .append("circle")
        .attr("cx", function (d) { return x(d[0]); })
        .attr("cy", function (d) { return y(d[1]); })
        .attr("r", 4.3)
        .attr("fill", "none")
        .attr("stroke", "#000")
        .attr("stroke-width", 1.4);

    // reference lines
    if (p.kind === "delta") {
        plot.append("line")
            .attr("x1", x(0)).attr("x2", x(0)).attr("y1", 0).attr("y2", p.h)
            .attr("stroke", "#7a7a7a").attr("stroke-width", 2.4).attr("stroke-dasharray", "8,5");
        plot.append("line")
            .attr("x1", 0).attr("x2", W).attr("y1", y(0)).attr("y2", y(0))
            .attr("stroke", "#7a7a7a").attr("stroke-width", 2.4).attr("stroke-dasharray", "8,5");
        var lo = x.domain()[0], hi = x.domain()[1];
        plot.append("line")
            .attr("x1", x(lo)).attr("y1", y(lo)).attr("x2", x(hi)).attr("y2", y(hi))
            .attr("stroke", "#4b4bff").attr("stroke-width", 1.5);
    } else {
        plot.append("line")
            .attr("x1", x(pCutoff)).attr("x2", x(pCutoff)).attr("y1", 0).attr("y2", p.h)
            .attr("stroke", "#444").attr("stroke-width", 1.6).attr("stroke-dasharray", "6,4");
        plot.append("line")
            .attr("x1", 0).attr("x2", W).attr("y1", y(pCutoff)).attr("y2", y(pCutoff))
            .attr("stroke", "#444").attr("stroke-width", 1.6).attr("stroke-dasharray", "6,4");
    }

    // box
    g.append("rect")
        .attr("width", W).attr("height", p.h)
        .attr("fill", "none").attr("stroke", "#555").attr("stroke-width", 1.4);

    // x axis
    var xAxis = g.append("g")
        .attr("transform", "translate(0," + p.h + ")")
        .call(d3.axisBottom(x).tickValues(ticks).tickSize(11).tickPadding(7)
            .tickFormat(function (d) { return labelOf(d, ticks.indexOf(d)); }));
    xAxis.select(".domain").remove();
    xAxis.selectAll(".tick line").attr("stroke", "#555").attr("stroke-width", 1.4);
    xAxis.selectAll(".tick text")
        .attr("font-size", 20).attr("fill", "#111")
        .attr("font-family", "Liberation Sans, Arial, sans-serif");

    // y axis: ticks, labels parallel to axis
    var yAxis = g.append("g")
        .call(d3.axisLeft(y).tickValues(ticks).tickSize(11).tickFormat(""));
    yAxis.select(".domain").remove();
    yAxis.selectAll(".tick line").attr("stroke", "#555").attr("stroke-width", 1.4);

    g.selectAll(".ylab")
        .data(ticks)
        .enter()
        .append("text")
        .attr("class", "ylab")
        .attr("transform", function (d) { return "translate(-24," + y(d) + ") rotate(-90)"; })
        .attr("text-anchor", "middle")
        .attr("dy", "0.35em")
        .attr("font-size", 20)
        .text(function (d, i) { return labelOf(d, i); });

    // titles
    g.append("text")
        .attr("x", W / 2).attr("y", -24).attr("dy", "0.35em")
        .attr("text-anchor", "middle")
        .attr("font-size", 23).attr("font-weight", "bold").attr("fill", "#000")
        .text(p.title);

    g.append("text")
        .attr("x", W / 2).attr("y", p.h + 48).attr("dy", "0.35em")
        .attr("text-anchor", "middle")
        .attr("font-size", 20)
        .text(xlab);

    g.append("text")
        .attr("transform", "translate(-49," + (p.h / 2) + ") rotate(-90)")
        .attr("dy", "0.35em")
        .attr("text-anchor", "middle")
        .attr("font-size", 20)
        .text(ylab);
});
</script>
</body>
</html>
